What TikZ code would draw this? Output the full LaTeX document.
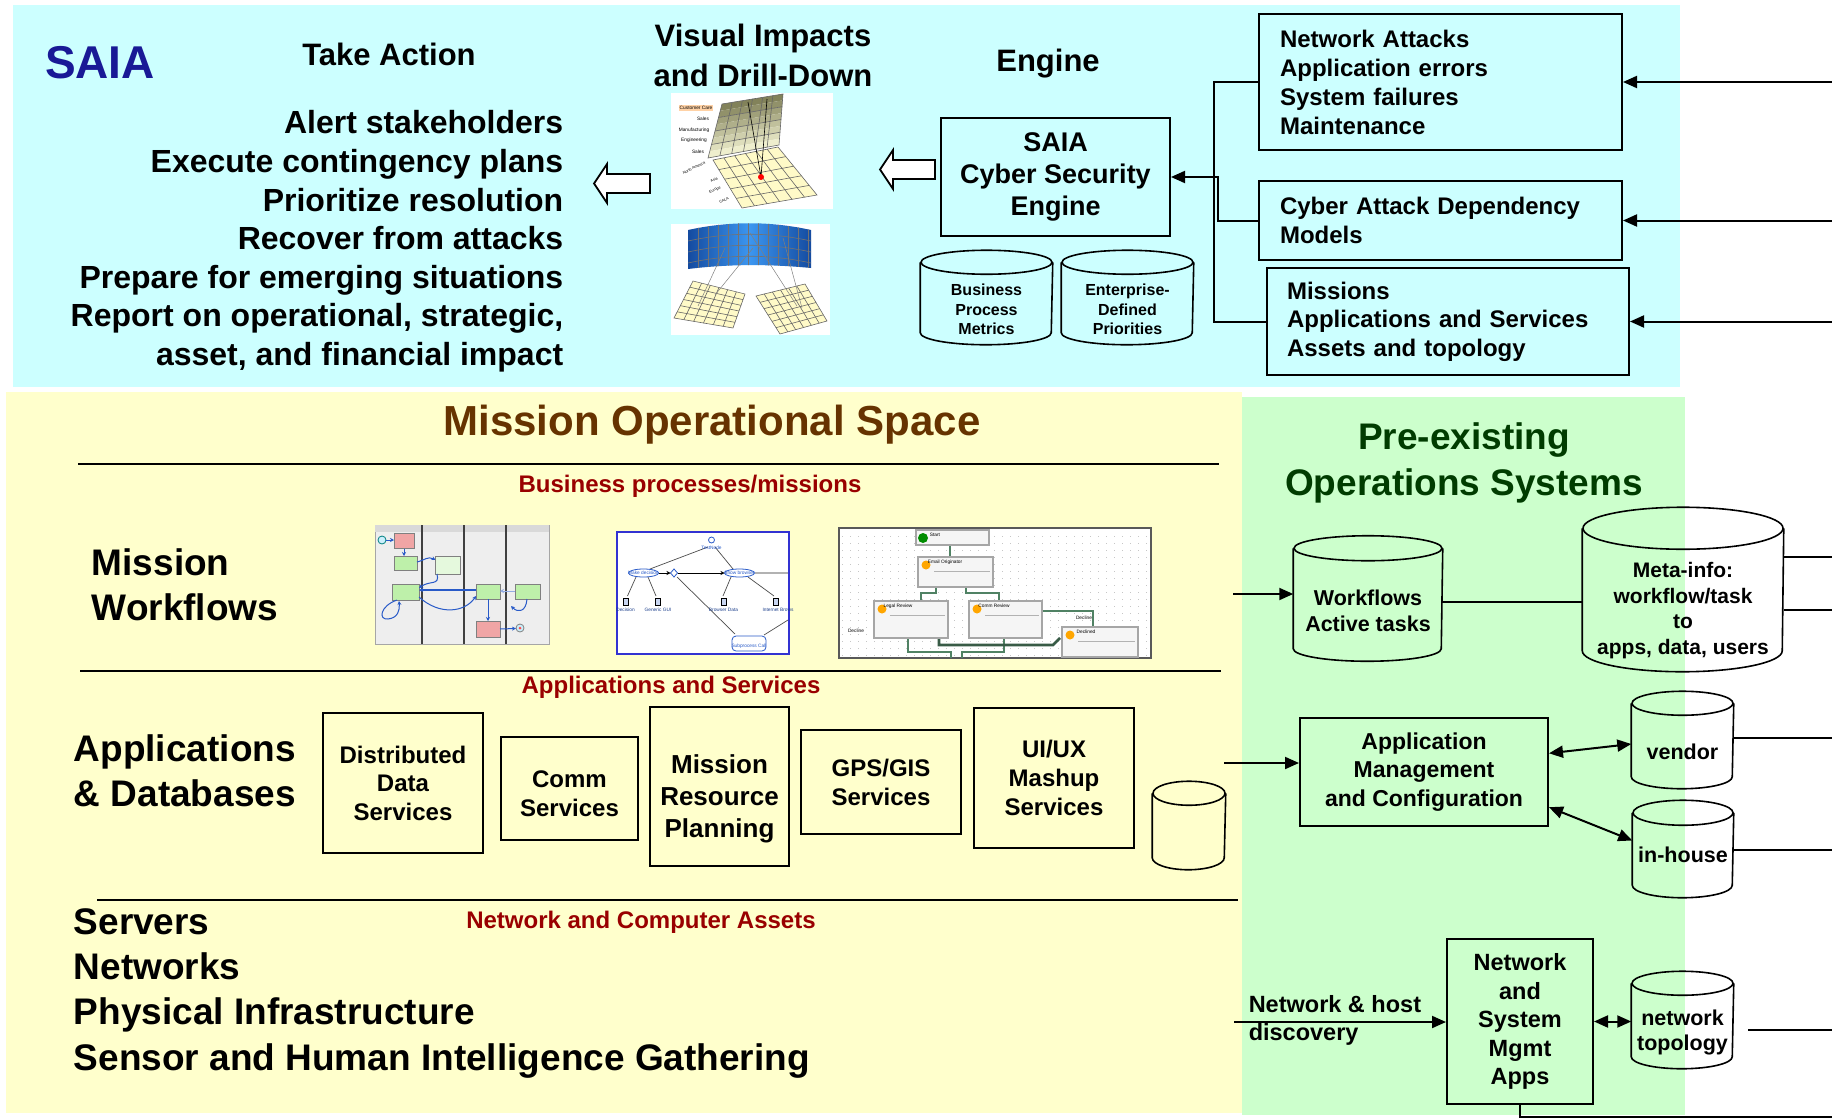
\documentclass[tikz,border=0pt]{standalone}
\usepackage{fontspec}
\setmainfont{Liberation Sans}
\usetikzlibrary{arrows.meta,calc}

\definecolor{skyPanel}{RGB}{204,255,255}
\definecolor{creamPanel}{RGB}{255,255,204}
\definecolor{mintPanel}{RGB}{204,255,204}
\definecolor{saiaNavy}{RGB}{25,25,150}
\definecolor{spaceBrown}{RGB}{102,51,0}
\definecolor{layerRed}{RGB}{153,0,0}
\definecolor{opsGreen}{RGB}{0,60,0}
\definecolor{planeDark}{RGB}{130,130,90}
\definecolor{planeLight}{RGB}{238,238,205}
\definecolor{gridCream}{RGB}{255,250,200}
\definecolor{bandDark}{RGB}{20,75,160}
\definecolor{bandLight}{RGB}{60,150,240}
\definecolor{laneGrey}{RGB}{238,238,238}
\definecolor{taskGreen}{RGB}{190,240,170}
\definecolor{taskPink}{RGB}{240,165,165}
\definecolor{flowBlue}{RGB}{40,90,200}
\definecolor{frameBlue}{RGB}{50,50,210}
\definecolor{spGreen}{RGB}{80,130,100}

% bold Helvetica-like text at a given size / baselineskip
\newcommand{\fs}[2]{\fontsize{#1}{#2}\selectfont\bfseries}
% database can round a node: #1 node, #2 x radius, #3 cap half-height
\newcommand{\dbcan}[3]{%
  \draw[canline] ($(#1.north west)+(0,-#3)$) -- ($(#1.south west)+(0,-#3)$)
    arc[start angle=180, end angle=0, x radius=#2, y radius=#3]
    -- ($(#1.north east)+(0,-#3)$);
  \draw[canline] ($(#1.north)+(0,-#3)$) ellipse [x radius=#2, y radius=#3];
}

\tikzset{every picture/.style={line width=0.75pt}}
\tikzset{
  box/.style={draw, line width=1pt, align=center, inner sep=0pt},
  listbox/.style={draw, line width=1pt, align=left, inner ysep=0pt},
  cantext/.style={inner sep=0pt, align=center},
  canline/.style={line width=0.8pt},
  wire/.style={line width=1pt},
  arr/.style={wire, -{Triangle[length=7pt,width=6pt]}},
  dblarr/.style={wire, {Triangle[length=7pt,width=6pt]}-{Triangle[length=7pt,width=6pt]}},
  sepline/.style={line width=1.1pt},
  hollow/.style={draw, fill=white, line width=0.9pt},
  gridline/.style={line width=0.3pt, black!60},
  flow/.style={flowBlue, line width=0.5pt, -{Stealth[length=2pt,width=2pt]}},
  tinytxt/.style={font=\fontsize{2.4}{2.8}\selectfont, inner sep=0pt},
}

\begin{document}
\begin{tikzpicture}[x=0.5pt,y=0.5pt,yscale=-1,xscale=1]
\useasboundingbox (0,0) rectangle (1832,1119);

%Shape: Panels
\fill[skyPanel] (13,5) rectangle (1680,387);
\fill[creamPanel] (6,392) rectangle (1242,1113);
\fill[mintPanel] (1242,397) rectangle (1685,1115);

%%%%%%%% SAIA layer
\node[anchor=base, text=saiaNavy, font=\fs{23}{27}] (saia) at (100,78) {SAIA};
\node[anchor=base, font=\fs{15.5}{19}] (takeaction) at (389,65) {Take Action};
\node[anchor=north east, align=right, inner sep=0pt, font=\fs{16}{19.3}] (actions) at (564,110)
  {Alert stakeholders\\Execute contingency plans\\Prioritize resolution\\Recover from attacks\\
   Prepare for emerging situations\\Report on operational, strategic,\\asset, and financial impact};
\node[anchor=north, align=center, inner sep=0pt, font=\fs{15.5}{20}] (visual) at (763,23) {Visual Impacts\\and Drill-Down};
\node[anchor=base, font=\fs{15.5}{19}] (enginehead) at (1048,71) {Engine};

%Shape: Rectangle
\node[box, font=\fs{13.5}{16}, minimum width=114.5pt, minimum height=59pt] (engine) at (1055.5,177) {SAIA\\Cyber Security\\Engine};

%Shape: Hollow arrows
\draw[hollow] (594,183.5) -- (607,164) -- (607,174) -- (650,174) -- (650,193) -- (607,193) -- (607,203) -- cycle;
\draw[hollow] (880,169.5) -- (893,150) -- (893,160) -- (935,160) -- (935,179) -- (893,179) -- (893,189) -- cycle;

%Shape: Can
\node[cantext, font=\fs{8}{9.75}, minimum width=65.5pt, minimum height=34.5pt] (metrics) at (986.5,309.5) {Business\\Process\\Metrics};
\dbcan{metrics}{65.5}{12}
\node[cantext, font=\fs{8}{9.75}, minimum width=65.5pt, minimum height=34.5pt] (priorities) at (1127.5,309.5) {Enterprise-\\Defined\\Priorities};
\dbcan{priorities}{65.5}{12}

%Shape: Rectangle
\node[listbox, font=\fs{12}{14.5}, inner xsep=10.5pt, text width=160.5pt, minimum height=68pt] (netattacks) at (1440.5,82)
  {Network Attacks\\Application errors\\System failures\\Maintenance};
\node[listbox, font=\fs{12}{14.5}, inner xsep=10.5pt, text width=160.5pt, minimum height=39.5pt] (depmodels) at (1440.5,220.5)
  {Cyber Attack Dependency\\Models};
\node[listbox, font=\fs{12}{14.25}, inner xsep=10pt, text width=161pt, minimum height=53.5pt] (missions) at (1448,321.5)
  {Missions\\Applications and Services\\Assets and topology};

%Straight Lines
\draw[wire] (netattacks.west) -- ++(-44,0) |- (missions.west);
\draw[arr] (depmodels.west) -- ++(-40,0) |- (engine.east);
\coordinate (feedA) at (1832,82);
\coordinate (feedB) at (1832,220.5);
\coordinate (feedC) at (1832,321.5);
\draw[arr] (feedA) -- (netattacks.east);
\draw[arr] (feedB) -- (depmodels.east);
\draw[arr] (feedC) -- (missions.east);

%Shape: Drill-down planes
\fill[white] (671,93) rectangle (833,209);
\coordinate (u1) at (722,104); \coordinate (u2) at (783,94);
\coordinate (u3) at (779,145); \coordinate (u4) at (708,158);
\foreach \k [evaluate=\k as \pc using int(\k*100/7)] in {0,...,7}
  \fill[planeLight!\pc!planeDark] ($(u1)!{\k/8}!(u4)$) -- ($(u2)!{\k/8}!(u3)$) -- ($(u2)!{(\k+1)/8}!(u3)$) -- ($(u1)!{(\k+1)/8}!(u4)$) -- cycle;
\foreach \t in {1,...,5} \draw[gridline] ($(u1)!\t/6!(u2)$) -- ($(u4)!\t/6!(u3)$);
\foreach \t in {1,2,3} \draw[gridline] ($(u1)!\t/4!(u4)$) -- ($(u2)!\t/4!(u3)$);
\draw[gridline] (u1) -- (u2) -- (u3) -- (u4) -- cycle;
\coordinate (l1) at (713,160); \coordinate (l2) at (778,147);
\coordinate (l3) at (817,195); \coordinate (l4) at (742,208);
\fill[gridCream] (l1) -- (l2) -- (l3) -- (l4) -- cycle;
\foreach \t in {1,...,5} \draw[gridline] ($(l1)!\t/6!(l2)$) -- ($(l4)!\t/6!(l3)$);
\foreach \t in {1,...,4} \draw[gridline] ($(l1)!\t/5!(l4)$) -- ($(l2)!\t/5!(l3)$);
\draw[gridline] (l1) -- (l2) -- (l3) -- (l4) -- cycle;
\draw[line width=0.3pt] (748,102) -- (761,177) (767,99) -- (761,177);
\fill[red] (761,177) circle (3);
\node[tinytxt, fill=orange!35, inner sep=0.6pt] (dd1) at (696,108) {Customer Care};
\foreach \txt/\px/\py [count=\i] in {Sales/703/119, Manufacturing/694/130, Engineering/694/140, Sales/698/152}
  \node[tinytxt] (ddrow\i) at (\px,\py) {\txt};
\foreach \txt/\px/\py [count=\i] in {North America/694/168, Asia/714/180, Europe/715/190, CALA/724/200}
  \node[tinytxt, font=\fontsize{1.9}{2.2}\selectfont, rotate=25] (ddreg\i) at (\px,\py) {\txt};

%Shape: Curved band and panels
\fill[white] (671,224) rectangle (830,335);
\begin{scope}
  \clip (688,230) .. controls (729,221) and (770,221) .. (811,230) -- (811,268) .. controls (770,264) and (729,264) .. (688,269) -- cycle;
  \shade[left color=bandDark, right color=bandDark, middle color=bandLight] (688,215) rectangle (811,272);
  \foreach \x in {698,708,...,808} \draw[line width=0.3pt, black!55] (\x,215) -- (\x,272);
  \foreach \d in {11,22,33} \draw[line width=0.3pt, black!55] (688,{230+\d}) .. controls (729,{221+\d}) and (770,{221+\d}) .. (811,{230+\d});
\end{scope}
\coordinate (q1) at (693,281); \coordinate (q2) at (745,294);
\coordinate (q3) at (733,328); \coordinate (q4) at (674,318);
\coordinate (r1) at (756,296); \coordinate (r2) at (805,284);
\coordinate (r3) at (827,321); \coordinate (r4) at (780,334);
\fill[gridCream] (q1) -- (q2) -- (q3) -- (q4) -- cycle;
\fill[gridCream] (r1) -- (r2) -- (r3) -- (r4) -- cycle;
\foreach \t in {1,...,5} {
  \draw[gridline] ($(q1)!\t/6!(q2)$) -- ($(q4)!\t/6!(q3)$);
  \draw[gridline] ($(q1)!\t/6!(q4)$) -- ($(q2)!\t/6!(q3)$);
  \draw[gridline] ($(r1)!\t/6!(r2)$) -- ($(r4)!\t/6!(r3)$);
  \draw[gridline] ($(r1)!\t/6!(r4)$) -- ($(r2)!\t/6!(r3)$);
}
\draw[gridline] (q1) -- (q2) -- (q3) -- (q4) -- cycle;
\draw[gridline] (r1) -- (r2) -- (r3) -- (r4) -- cycle;
\draw[line width=0.25pt, black!50] (725,248) -- (698,306) (753,248) -- (715,295) (750,233) -- (797,306) (783,238) -- (802,308);

%%%%%%%% Mission operational space
\node[anchor=base, text=spaceBrown, font=\fs{21}{25}] (mos) at (712,435) {Mission Operational Space};
\draw[sepline] (78,464) -- (1219,464);
\draw[sepline] (80,671) -- (1221,671);
\draw[sepline] (97,900) -- (1238,900);

\node[anchor=base, text=layerRed, font=\fs{12}{14}] (bizproc) at (690,492) {Business processes/missions};
\node[anchor=north west, align=left, inner sep=0pt, font=\fs{18.5}{22.5}] (wflabel) at (91,548) {Mission\\Workflows};

%Shape: Swimlane workflow
\draw[fill=laneGrey, draw=gray!70, line width=0.5pt] (375,525) rectangle (549,644);
\fill[gray!30] (375,525) rectangle (549,532);
\foreach \x in {422,464,506} \draw[line width=0.6pt, gray!50!black] (\x,525) -- (\x,644);
\draw[line width=0.4pt, draw=teal, fill=cyan!20] (382,540) circle (4);
\draw[line width=0.4pt, draw=gray, fill=cyan!20] (520,628) circle (4);
\fill[red!70] (520,628) circle (1.5);
\draw[line width=0.4pt, draw=gray, fill=taskPink] (394,533) rectangle (414,548);
\draw[line width=0.4pt, draw=gray, fill=taskPink] (476,621) rectangle (500,637);
\draw[line width=0.4pt, draw=gray, fill=taskGreen] (394,556) rectangle (417,570);
\draw[line width=0.4pt, draw=gray, fill=taskGreen!40] (435.5,556) rectangle (460,574);
\draw[line width=0.4pt, draw=gray, fill=taskGreen] (392,584) rectangle (419,600);
\draw[line width=0.4pt, draw=gray, fill=taskGreen] (476,584) rectangle (500,599);
\draw[line width=0.4pt, draw=gray, fill=taskGreen] (515,584) rectangle (540,599);
\draw[flow] (386,540) -- (394,540);
\draw[flow] (404,548.5) -- (404,556);
\draw[flow] (417,562) .. controls (425,560) and (428,556) .. (435.5,560);
\draw[flow] (437,574) .. controls (440,586) and (430,580) .. (419,588);
\draw[flow, line width=0.9pt] (476,590) -- (419,590);
\draw[flow] (419,597) .. controls (440,616) and (465,612) .. (476,596);
\draw[flow] (397,600) .. controls (380,606) and (378,620) .. (388,619) .. controls (398,618) and (400,610) .. (399,601);
\draw[flow] (488,599) -- (488,621);
\draw[flow] (500,629) -- (516,628.5);
\draw[flow, flowBlue!50] (515,591) -- (500,591);
\draw[flow] (527,599) .. controls (526,612) and (518,613) .. (511,606);

%Shape: Decision workflow
\draw[fill=white, draw=frameBlue, line width=1.2pt] (617,532) rectangle (789,654);
\draw[line width=1.2pt, gray!60] (755,573) -- (788,573);
\draw[line width=0.35pt, black!70] (650,569) -- (708,547) (715,547) -- (733,569)
  (627.5,596) -- (636,577) (648,577) -- (656,596) (723,596) -- (731,577) (748,577) -- (774,596)
  (677,577) -- (735,634) (788,620) -- (764,635);
\draw[line width=0.4pt, flowBlue, fill=white] (643.5,573) ellipse [x radius=15, y radius=4];
\draw[line width=0.4pt, flowBlue, fill=white] (739.5,573) ellipse [x radius=15, y radius=4];
\draw[line width=0.4pt, flowBlue, fill=white] (674,569) -- (677.5,573) -- (674,577) -- (670.5,573) -- cycle;
\draw[line width=0.4pt, flowBlue, fill=white] (711.5,540) circle (3);
\draw[line width=0.4pt, -{Stealth[length=2pt,width=2pt]}] (658.5,573) -- (670.5,573);
\draw[line width=0.4pt, -{Stealth[length=2pt,width=2pt]}] (677.5,573) -- (724.5,573);
\foreach \x in {625.5,658,723.5,776} \draw[line width=0.3pt, fill=flowBlue!25] ({\x-2.5},598) rectangle ({\x+2.5},605);
\draw[line width=0.4pt, flowBlue, fill=white, rounded corners=2] (732,636) rectangle (766,651);
\node[tinytxt, text=flowBlue] (wfa) at (643.5,573) {Make decision};
\node[tinytxt, text=flowBlue] (wfb) at (739.5,573) {Show browser};
\node[tinytxt, text=flowBlue] (wfc) at (711.5,548) {TestNode};
\node[tinytxt, text=flowBlue] (wfd) at (749,646) {Subprocess Call};
\foreach \txt/\px [count=\i] in {Decision/625.5, Generic GUI/658, Browser Data/723.5, Internet Brows/778}
  \node[tinytxt, text=flowBlue!70!black] (wfe\i) at (\px,610) {\txt};

%Shape: Approval workflow
\draw[fill=white, draw=gray!70!black, line width=1.2pt] (839,528) rectangle (1151,658);
\foreach \y in {536,543,...,655} \draw[gray!45, line width=0.5pt, dash pattern=on 0.5pt off 3.5pt] (842,\y) -- (1148,\y);
\draw[spGreen, line width=0.7pt] (950,545) -- (950,557);
\draw[spGreen, line width=0.7pt] (936,587) |- (921,593) -- (921,601);
\draw[spGreen, line width=0.7pt] (966,587) |- (999,593) -- (999,601);
\draw[spGreen, line width=0.7pt] (1042,611) -| (1093,627);
\draw[spGreen, line width=0.7pt] (908,638) |- (951,652) -- (951,658);
\draw[spGreen, line width=0.7pt] (1004,638) |- (962,652) -- (962,658);
\draw[spGreen!70!black, line width=1.3pt] (939,638) |- (1053,645) -- (1060,638);
\foreach \a/\b/\c/\d in {916/530/989/545, 918/557/993/587, 874/601/948/638, 969/601/1042/638, 1062/627/1138/657}
  \draw[fill=gray!8, draw=gray!70, line width=0.6pt] (\a,\b) rectangle (\c,\d);
\foreach \a/\b/\c/\d in {918/557/993/587, 874/601/948/638, 969/601/1042/638, 1062/627/1138/657}
  \draw[gray!60, line width=0.4pt] (\a+16,{\b+14}) -- (\c-3,{\b+14});
\fill[green!55!black] (923,538) circle (5);
\foreach \px/\py in {926/565, 882/609, 977/609, 1070/635} \fill[orange!70!yellow] (\px,\py) circle (4.5);
\node[tinytxt] (spa) at (935,535) {Start};
\node[tinytxt] (spb) at (945,562) {Email Originator};
\node[tinytxt] (spc) at (898,606) {Legal Review};
\node[tinytxt] (spd) at (994,606) {Comm Review};
\node[tinytxt] (spe) at (1086,632) {Declined};
\node[tinytxt] (spf) at (1084,618) {Decline};
\node[tinytxt] (spg) at (856,631) {Decline};

\node[anchor=base, text=layerRed, font=\fs{12}{14}] (appsvc) at (671,693) {Applications and Services};
\node[anchor=north west, align=left, inner sep=0pt, font=\fs{18.5}{22.5}] (applabel) at (73,734) {Applications\\\& Databases};

%Shape: Rectangle
\node[box, font=\fs{12}{14.25}, minimum width=80pt, minimum height=70pt] (dds) at (403,783) {Distributed\\Data\\Services};
\node[box, minimum width=68.5pt, minimum height=51.5pt] (comm) at (569.5,788.5) {};
\node[align=center, inner sep=0pt, font=\fs{12}{14.5}] (commtext) at (569.5,794) {Comm\\Services};
\node[box, minimum width=69.5pt, minimum height=79.5pt] (mrp) at (719.5,786.5) {};
\node[align=center, inner sep=0pt, font=\fs{13}{16}] (mrptext) at (719.5,799) {Mission\\Resource\\Planning};
\node[box, font=\fs{12}{14.5}, minimum width=80pt, minimum height=52pt] (gps) at (881,782) {GPS/GIS\\Services};
\node[box, font=\fs{12}{14.5}, minimum width=80pt, minimum height=70pt] (uiux) at (1054,778) {UI/UX\\Mashup\\Services};
\node[cantext, minimum width=36pt, minimum height=31.5pt] (appdb) at (1189,837.5) {};
\dbcan{appdb}{36}{12}

\node[anchor=base, text=layerRed, font=\fs{12}{14}] (netassets) at (641,928) {Network and Computer Assets};
\node[anchor=north west, align=left, inner sep=0pt, font=\fs{18.5}{22.6}] (assets) at (73,908)
  {Servers\\Networks\\Physical Infrastructure\\Sensor and Human Intelligence Gathering};

%%%%%%%% Pre-existing operations systems
\node[anchor=north, align=center, inner sep=0pt, text=opsGreen, font=\fs{18.5}{22.8}] (preex) at (1464,422) {Pre-existing\\Operations Systems};

%Shape: Can
\node[cantext, font=\fs{10.75}{13}, minimum width=74pt, minimum height=49.5pt] (wfcan) at (1368,611) {Workflows\\Active tasks};
\dbcan{wfcan}{74}{12.5}
\node[cantext, font=\fs{10.5}{12.9}, minimum width=100pt, minimum height=60.5pt] (meta) at (1683,610.5) {Meta-info:\\workflow/task\\to\\apps, data, users};
\dbcan{meta}{100}{21}
\node[cantext, font=\fs{10.75}{13}, minimum width=50.5pt, minimum height=36pt] (vendor) at (1682.5,752) {vendor};
\dbcan{vendor}{50.5}{12}
\node[cantext, minimum width=50pt, minimum height=35.5pt] (inhouse) at (1683,861.5) {};
\node[inner sep=0pt, font=\fs{10.75}{13}] (inhousetext) at (1683,855) {in-house};
\dbcan{inhouse}{50}{12.5}
\node[cantext, font=\fs{10.75}{12.5}, minimum width=50.5pt, minimum height=36pt] (topo) at (1682.5,1032) {network\\topology};
\dbcan{topo}{50.5}{12}

%Shape: Rectangle
\node[box, font=\fs{11.5}{14.25}, minimum width=124pt, minimum height=54pt] (appmgmt) at (1424,772) {Application\\Management\\and Configuration};
\node[box, font=\fs{11.75}{14.25}, minimum width=73pt, minimum height=82.5pt] (nsm) at (1520,1021.5) {Network\\and\\System\\Mgmt\\Apps};
\node[anchor=north west, align=left, inner sep=0pt, font=\fs{11.75}{14}] (discovery) at (1248,995) {Network \& host\\discovery};

%Straight Lines
\coordinate (wfin) at (1233,594);
\draw[arr] (wfin) -- (wfin -| wfcan.west);
\draw[wire] ($(wfcan.east)+(0,-9)$) -- ($(meta.west)+(0,-8.5)$);
\coordinate (metaout1) at (1832,557);
\coordinate (metaout2) at (1832,610);
\draw[canline] (metaout1 -| meta.east) -- (metaout1);
\draw[canline] (metaout2 -| meta.east) -- (metaout2);
\coordinate (appin) at (1224,763);
\draw[arr] (appin) -- (appin -| appmgmt.west);
\draw[dblarr] ($(appmgmt.north east)!.33!(appmgmt.south east)$) -- ($(vendor.west)+(0,-8)$);
\draw[dblarr] ($(appmgmt.north east)!.82!(appmgmt.south east)$) -- ($(inhouse.west)+(0,-21)$);
\coordinate (vendorout) at (1832,738);
\coordinate (houseout) at (1832,850);
\draw[canline] (vendorout -| vendor.east) -- (vendorout);
\draw[canline] (houseout -| inhouse.east) -- (houseout);
\coordinate (discin) at (1234,1022);
\draw[arr] (discin) -- (discin -| nsm.west);
\draw[dblarr] (nsm.east) -- (nsm.east -| topo.west);
\coordinate (topostart) at (1748,1030);
\coordinate (topoout) at (1832,1030);
\draw[wire] (topostart) -- (topoout);
\coordinate (mgmtout) at (1832,1117);
\draw[wire] (nsm.south) |- (mgmtout);

\end{tikzpicture}
\end{document}
